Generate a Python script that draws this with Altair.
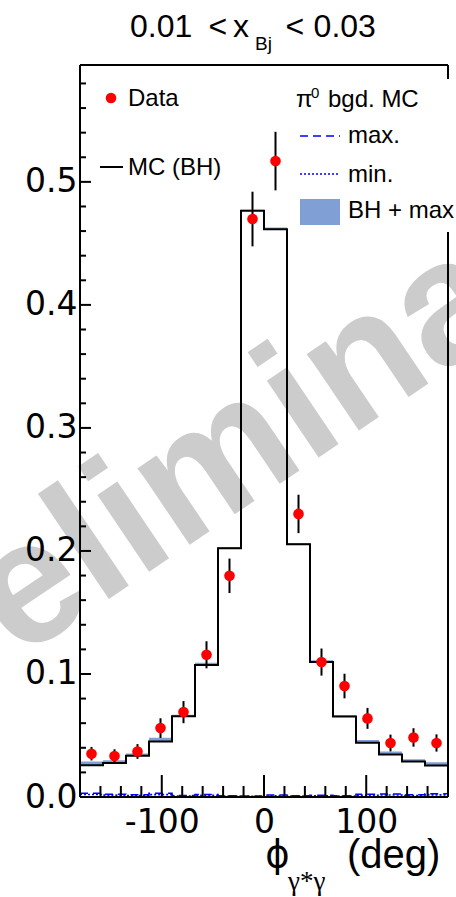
import altair as alt
import pandas as pd

# ---------------- data ----------------
bin_low = [-180.0, -157.5, -135.0, -112.5, -90.0, -67.5, -45.0, -22.5,
           0.0, 22.5, 45.0, 67.5, 90.0, 112.5, 135.0, 157.5]
bin_high_end = 180.0
phi_center = [-168.75, -146.25, -123.75, -101.25, -78.75, -56.25, -33.75, -11.25,
              11.25, 33.75, 56.25, 78.75, 101.25, 123.75, 146.25, 168.75]
data_val = [0.0352, 0.0333, 0.0370, 0.0560, 0.0690, 0.1156, 0.1798, 0.4698,
            0.5169, 0.2301, 0.1097, 0.0902, 0.0639, 0.0439, 0.0484, 0.0439]
data_err = [0.0055, 0.0055, 0.0060, 0.0080, 0.0090, 0.0110, 0.0140, 0.0222,
            0.0238, 0.0156, 0.0110, 0.0100, 0.0085, 0.0068, 0.0075, 0.0070]
mc_bh = [0.0258, 0.0276, 0.0336, 0.0452, 0.0657, 0.1072, 0.2022, 0.4765,
         0.4614, 0.2055, 0.1098, 0.0655, 0.0441, 0.0346, 0.0289, 0.0256]
pi0_max = [0.0030, 0.0022, 0.0018, 0.0030, 0.0012, 0.0020, 0.0010, 0.0008,
           0.0016, 0.0010, 0.0014, 0.0010, 0.0022, 0.0024, 0.0018, 0.0026]
pi0_min = [0.0020, 0.0015, 0.0012, 0.0019, 0.0008, 0.0013, 0.0007, 0.0005,
           0.0010, 0.0007, 0.0009, 0.0007, 0.0014, 0.0016, 0.0012, 0.0017]

x_major_ticks = [-100, 0, 100]
x_minor_ticks = [-160, -140, -120, -80, -60, -40, -20, 20, 40, 60, 80, 120, 140, 160]
y_major_ticks = [0.0, 0.1, 0.2, 0.3, 0.4, 0.5]
y_minor_ticks = [0.02, 0.04, 0.06, 0.08, 0.12, 0.14, 0.16, 0.18, 0.22, 0.24, 0.26, 0.28,
                 0.32, 0.34, 0.36, 0.38, 0.42, 0.44, 0.46, 0.48, 0.52, 0.54, 0.56, 0.58]

X_DOM = [-180, 180]
Y_DOM = [0, 0.595]
W, H = 368, 732
FONT = "Liberation Sans"
LABEL_FONT = "DejaVu Sans"
BAND_BLUE = "#809fd4"

# ---------------- tables ----------------
step = pd.DataFrame({
    "x": bin_low + [bin_high_end],
    "bh": mc_bh + [mc_bh[-1]],
    "top": [b + m for b, m in zip(mc_bh, pi0_max)] + [mc_bh[-1] + pi0_max[-1]],
    "pmax": pi0_max + [pi0_max[-1]],
    "pmin": pi0_min + [pi0_min[-1]],
})
pts = pd.DataFrame({
    "phi": phi_center,
    "val": data_val,
    "lo": [v - e for v, e in zip(data_val, data_err)],
    "hi": [v + e for v, e in zip(data_val, data_err)],
})

xs = alt.Scale(domain=X_DOM, nice=False, zero=False)
ys = alt.Scale(domain=Y_DOM, nice=False, zero=False)
x_axis = alt.Axis(values=x_major_ticks, labelExpr="'' + datum.value",
                  ticks=False, tickSize=0, domain=False, grid=False,
                  labelFont=LABEL_FONT, labelFontSize=33, labelColor="black",
                  labelPadding=9, title=None, zindex=1)
y_axis = alt.Axis(values=y_major_ticks, labelExpr="format(datum.value, '.1f')",
                  ticks=False, tickSize=0, domain=False, grid=False,
                  labelFont=LABEL_FONT, labelFontSize=33, labelColor="black",
                  labelPadding=3, title=None, zindex=1)
X = lambda f: alt.X(f, type="quantitative", scale=xs, axis=x_axis)
Y = lambda f: alt.Y(f, type="quantitative", scale=ys, axis=y_axis)

base_step = alt.Chart(step)

band = base_step.mark_area(interpolate="step-after", color=BAND_BLUE).encode(
    x=X("x"), y=Y("top"), y2="bh")
pmax_line = base_step.mark_line(interpolate="step-after", color="#0000ff",
                                strokeWidth=1.6, strokeDash=[8, 5]).encode(x=X("x"), y=Y("pmax"))
pmin_line = base_step.mark_line(interpolate="step-after", color="#0000ff",
                                strokeWidth=1.6, strokeDash=[2, 2]).encode(x=X("x"), y=Y("pmin"))
bh_line = base_step.mark_line(interpolate="step-after", color="black",
                              strokeWidth=2).encode(x=X("x"), y=Y("bh"))

errbars = alt.Chart(pts).mark_rule(color="black", strokeWidth=2).encode(
    x=X("phi"), y=Y("lo"), y2="hi")
points = alt.Chart(pts).mark_point(filled=True, shape="circle", size=113,
                                   color="#ff0000", opacity=1).encode(x=X("phi"), y=Y("val"))

# ticks drawn inside the frame, as in ROOT
xmajor = alt.Chart(pd.DataFrame({"v": x_major_ticks})).mark_rule(strokeWidth=2, color="black").encode(
    x=X("v"), y=alt.value(H), y2=alt.value(H - 22))
xminor = alt.Chart(pd.DataFrame({"v": x_minor_ticks})).mark_rule(strokeWidth=2, color="black").encode(
    x=X("v"), y=alt.value(H), y2=alt.value(H - 11))
ymajor = alt.Chart(pd.DataFrame({"v": y_major_ticks})).mark_rule(strokeWidth=2, color="black").encode(
    y=Y("v"), x=alt.value(0), x2=alt.value(11))
yminor = alt.Chart(pd.DataFrame({"v": y_minor_ticks})).mark_rule(strokeWidth=2, color="black").encode(
    y=Y("v"), x=alt.value(0), x2=alt.value(6))

frame_df = pd.DataFrame({"a": [0]})
frame = [
    alt.Chart(frame_df).mark_rule(strokeWidth=2, color="black").encode(
        x=alt.datum(X_DOM[0], scale=xs), y=alt.datum(Y_DOM[0], scale=ys), y2=alt.datum(Y_DOM[1])),
    alt.Chart(frame_df).mark_rule(strokeWidth=2, color="black").encode(
        x=alt.datum(X_DOM[1], scale=xs), y=alt.datum(Y_DOM[0], scale=ys), y2=alt.datum(Y_DOM[1])),
    alt.Chart(frame_df).mark_rule(strokeWidth=2, color="black").encode(
        y=alt.datum(Y_DOM[0], scale=ys), x=alt.datum(X_DOM[0], scale=xs), x2=alt.datum(X_DOM[1])),
    alt.Chart(frame_df).mark_rule(strokeWidth=2, color="black").encode(
        y=alt.datum(Y_DOM[1], scale=ys), x=alt.datum(X_DOM[0], scale=xs), x2=alt.datum(X_DOM[1])),
]


def txt(t, x, y, size, align="left", baseline="alphabetic", font=FONT, color="black",
        weight="normal", angle=0):
    kw = dict(text=t, fontSize=size, align=align, baseline=baseline, font=font,
              color=color, fontWeight=weight)
    if angle:
        kw["angle"] = angle
    return alt.Chart(pd.DataFrame({"t": [t]})).mark_text(**kw).encode(
        x=alt.value(x), y=alt.value(y))


watermark = txt("Preliminary", 180, 432, 175, align="center", weight="bold",
                color="#cccccc", angle=326)

# legend
legend_box = alt.Chart(frame_df).mark_rect(color="white").encode(
    x=alt.value(209), x2=alt.value(380), y=alt.value(14), y2=alt.value(167))
leg = [
    alt.Chart(frame_df).mark_point(filled=True, shape="circle", size=113, color="#ff0000",
                                   opacity=1).encode(x=alt.value(31), y=alt.value(33)),
    txt("Data", 48, 41, 24),
    alt.Chart(frame_df).mark_rule(color="black", strokeWidth=2).encode(
        x=alt.value(20), x2=alt.value(43), y=alt.value(102)),
    txt("MC (BH)", 48, 110, 24),
    txt("π", 216, 42, 24),
    txt("0", 231, 33, 15),
    txt("bgd. MC", 248, 42, 24),
    alt.Chart(frame_df).mark_rule(color="#0000ff", strokeWidth=1.6, strokeDash=[8, 5]).encode(
        x=alt.value(220), x2=alt.value(260), y=alt.value(71)),
    txt("max.", 268, 78, 24),
    alt.Chart(frame_df).mark_rule(color="#0000ff", strokeWidth=1.6, strokeDash=[2, 2]).encode(
        x=alt.value(220), x2=alt.value(260), y=alt.value(109)),
    txt("min.", 268, 116.7, 24),
    alt.Chart(frame_df).mark_rect(color=BAND_BLUE).encode(
        x=alt.value(220), x2=alt.value(260), y=alt.value(134), y2=alt.value(160)),
    txt("BH + max", 268, 153.3, 24),
]

# title and x-axis title
titles = [
    txt("0.01", 50, -28, 32),
    txt("<", 128.5, -28, 32),
    txt("x", 153, -28, 32),
    txt("Bj", 175, -15, 19),
    txt("<", 205.5, -28, 32),
    txt("0.03", 233.6, -28, 32),
    txt("ϕ", 197.5, 802, 37, align="center", font="DejaVu Sans"),
    txt("γ*γ", 208, 825, 27, font="Liberation Serif"),
    txt("(deg)", 267, 803, 40),
]

layers = ([watermark, band, pmax_line, pmin_line, bh_line, errbars, points,
           xmajor, xminor, ymajor, yminor] + frame + [legend_box] + leg + titles)

chart = alt.layer(*layers).properties(
    width=W, height=H,
    autosize=alt.AutoSizeParams(type="none"),
    padding={"left": 80, "top": 65, "right": 8, "bottom": 100},
    background="white",
).configure_view(stroke=None)

chart.save("out.html", embed_options={"renderer": "svg", "actions": False})
